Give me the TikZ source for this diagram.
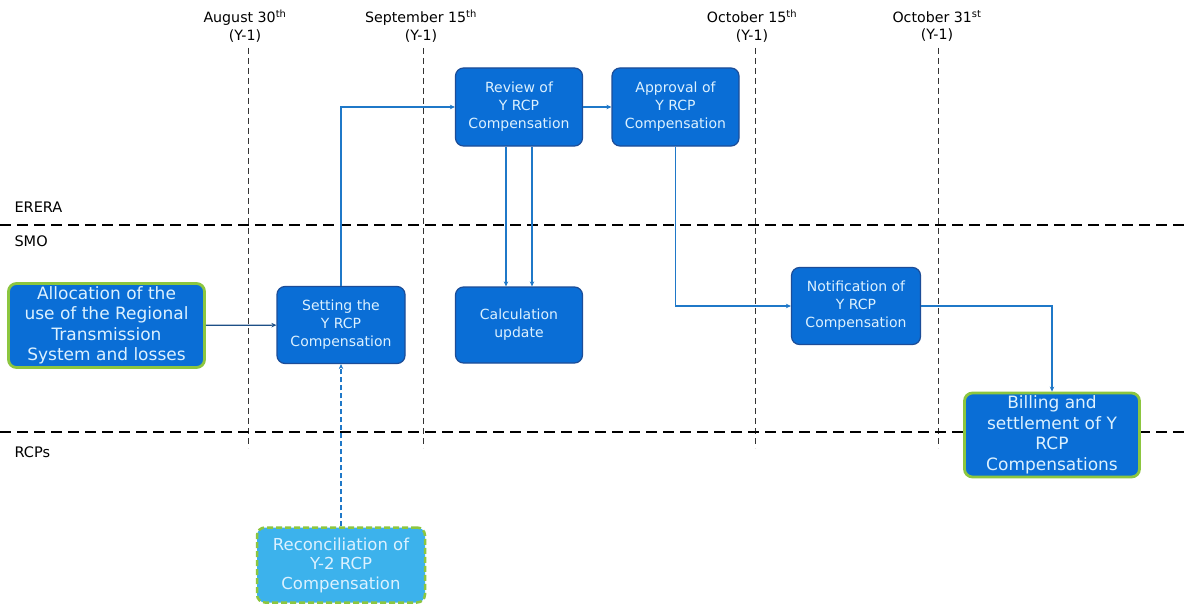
\documentclass[tikz,border=0pt]{standalone}
\usepackage{fontspec}
\setmainfont{DejaVu Sans}
\usetikzlibrary{arrows.meta}
\definecolor{boxfill}{HTML}{0A6ED6}
\definecolor{boxline}{HTML}{1C4D98}
\definecolor{boxtext}{HTML}{DCF1FF}
\definecolor{reconfill}{HTML}{3CB2EC}
\definecolor{greenline}{HTML}{8CC63F}
\definecolor{arrowblue}{HTML}{1F78C8}
\definecolor{arrowdark}{HTML}{1D4F86}
\tikzset{
  procbox/.style={draw=boxline, line width=1.2pt, fill=boxfill, rounded corners=8pt,
    text=boxtext, align=center, inner sep=1pt, font=\fontsize{14}{18}\selectfont},
  greenbox/.style={procbox, draw=greenline, line width=2.8pt, font=\fontsize{17}{20.5}\selectfont},
  reconbox/.style={procbox, fill=reconfill, draw=greenline, line width=2.5pt, dash pattern=on 6pt off 3pt,
    text=boxtext, font=\fontsize{16.5}{19.5}\selectfont},
  flow/.style={draw=arrowblue, line width=1.2pt, -{Stealth[length=5pt,width=4.5pt]}},
  lanesep/.style={draw=black, line width=2.6pt, dash pattern=on 11pt off 6pt},
  dateline/.style={draw=black!80, line width=0.8pt, dash pattern=on 6pt off 4pt},
  datelabel/.style={align=center, font=\fontsize{14.2}{17.5}\selectfont},
  lanelabel/.style={anchor=west, font=\fontsize{14.5}{16}\selectfont}
}
\begin{document}
\begin{tikzpicture}[x=1pt,y=-1pt]
\useasboundingbox[fill=white] (0,0) rectangle (1185,607);
% date lines
\foreach \xx/\nm in {248/d1,423/d2,755/d3,938/d4}{
  \coordinate (\nm top) at (\xx,48);
  \coordinate (\nm bot) at (\xx,448);
  \draw[dateline] (\nm top) -- (\nm bot);
}
\node[datelabel] (l1) at (245,26) {August 30\textsuperscript{th}\\(Y-1)};
\node[datelabel] (l2) at (421,26) {September 15\textsuperscript{th}\\(Y-1)};
\node[datelabel] (l3) at (752,26) {October 15\textsuperscript{th}\\(Y-1)};
\node[datelabel] (l4) at (937,26) {October 31\textsuperscript{st}\\(Y-1)};
% lanes
\coordinate (s1a) at (0,225); \coordinate (s1b) at (1185,225);
\coordinate (s2a) at (0,432); \coordinate (s2b) at (1185,432);
\draw[lanesep] (s1a) -- (s1b);
\draw[lanesep] (s2a) -- (s2b);
\node[lanelabel] (erera) at (11,207) {ERERA};
\node[lanelabel] (smo) at (11,241) {SMO};
\node[lanelabel] (rcps) at (11,452) {RCPs};
% boxes
\node[greenbox, minimum width=196pt, minimum height=84pt] (alloc) at (106.5,325.5)
  {Allocation of the\\use of the Regional\\Transmission\\System and losses};
\node[procbox, minimum width=128pt, minimum height=77pt] (setting) at (341,325)
  {Setting the\\Y RCP\\Compensation};
\node[procbox, minimum width=127pt, minimum height=78pt] (review) at (519,107)
  {Review of\\Y RCP\\Compensation};
\node[procbox, minimum width=127pt, minimum height=78pt] (approval) at (675.5,107)
  {Approval of\\Y RCP\\Compensation};
\node[procbox, minimum width=127pt, minimum height=76pt] (calc) at (519,325)
  {Calculation\\update};
\node[procbox, minimum width=129pt, minimum height=77pt] (notif) at (856,306)
  {Notification of\\Y RCP\\Compensation};
\node[greenbox, minimum width=175pt, minimum height=84pt] (billing) at (1052,435)
  {Billing and\\settlement of Y\\RCP\\Compensations};
\node[reconbox, minimum width=168pt, minimum height=75pt] (recon) at (341,565)
  {Reconciliation of\\Y-2 RCP\\Compensation};
% connectors
\draw[flow, draw=arrowdark] (alloc) -- (setting);
\draw[flow] (setting.north) |- (review.west);
\draw[flow] (review) -- (approval);
\draw[flow] ([xshift=-13pt]review.south) -- ([xshift=-13pt]calc.north);
\draw[flow] ([xshift=13pt]review.south) -- ([xshift=13pt]calc.north);
\draw[flow] (approval.south) |- (notif.west);
\draw[flow] (notif.east) -| (billing.north);
\draw[flow, dash pattern=on 5pt off 3pt] (recon.north) -- (setting.south);
\end{tikzpicture}
\end{document}
